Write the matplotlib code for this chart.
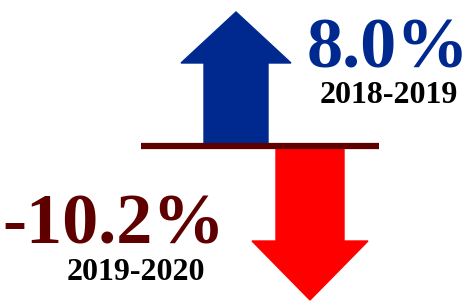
import matplotlib.pyplot as plt

# data
changes = [8.0, -10.2]
periods = ['2018-2019', '2019-2020']
labels = ['%.1f%%' % c for c in changes]

blue = '#00298F'
red = '#FF0000'
darkred = '#5E0000'

fig = plt.figure(figsize=(4.76, 3.02), dpi=100)
ax = fig.add_axes([0, 0, 1, 1])
ax.set_xlim(0, 476)
ax.set_ylim(302, 0)
ax.axis('off')

base = 146  # baseline y (pixels, y goes down)

# up arrow (growth)
cx = 236
ax.fill([cx - 32, cx + 32, cx + 32, cx + 55, cx, cx - 55, cx - 32],
        [base, base, 63, 63, 12, 63, 63], color=blue, zorder=2)

# down arrow (decline)
cx = 310
ax.fill([cx - 34, cx + 34, cx + 34, cx + 58, cx, cx - 58, cx - 34],
        [base, base, 241, 241, 300, 241, 241], color=red, zorder=2)

# baseline bar
ax.plot([141, 379], [base, base], color=darkred, lw=4.5, solid_capstyle='butt', zorder=3)

font = 'Liberation Serif'
ax.text(388, 67, labels[0], color=blue, fontsize=52, fontweight='bold',
        family=font, ha='center', va='baseline')
ax.text(389, 103, periods[0], color='black', fontsize=23, fontweight='bold',
        family=font, ha='center', va='baseline')
ax.text(114, 243, labels[1], color=darkred, fontsize=52, fontweight='bold',
        family=font, ha='center', va='baseline')
ax.text(136, 280, periods[1], color='black', fontsize=23, fontweight='bold',
        family=font, ha='center', va='baseline')

fig.savefig('out.png', dpi=100)
